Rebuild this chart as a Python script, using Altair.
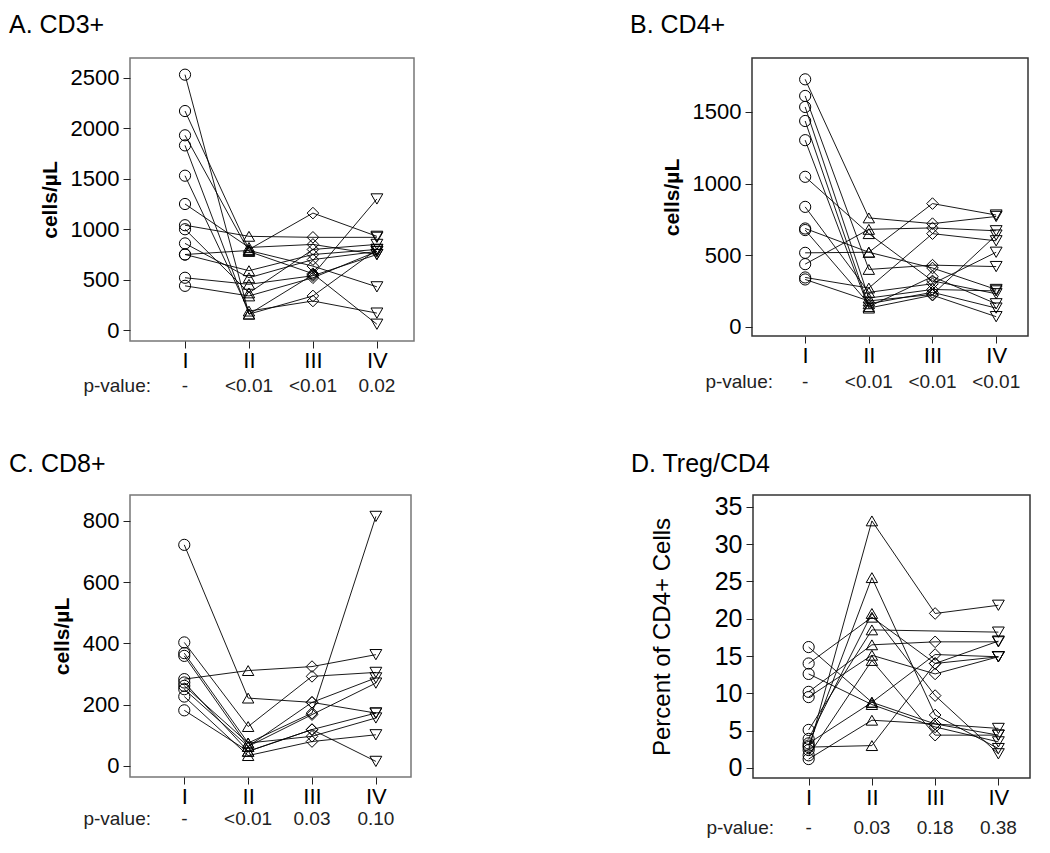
import altair as alt
import pandas as pd

ROMAN = ["I", "II", "III", "IV"]
SHAPES = ["circle", "triangle-up", "diamond", "triangle-down"]

# ---------------- Panel A: CD3+ (cells/uL) ----------------
a_I   = [2530, 2170, 1930, 1830, 1530, 1250, 1040, 1000, 860, 750, 750, 520, 440]
a_II  = [160, 800, 780, 160, 190, 820, 930, 370, 520, 790, 590, 455, 340]
a_III = [550, 1160, 560, 340, 290, 850, 920, 800, 700, 635, 750, 540, 520]
a_IV  = [1300, 930, 60, 800, 170, 750, 920, 850, 780, 430, 800, 750, 780]
a_p   = ["-", "<0.01", "<0.01", "0.02"]
a_ticks = [0, 500, 1000, 1500, 2000, 2500]

# ---------------- Panel B: CD4+ (cells/uL) ----------------
b_I   = [1728, 1612, 1535, 1437, 1303, 1047, 837, 686, 675, 516, 437, 344, 330]
b_II  = [760, 400, 200, 140, 130, 650, 240, 520, 160, 520, 680, 270, 180]
b_III = [720, 430, 260, 350, 220, 320, 300, 410, 240, 860, 690, 650, 225]
b_IV  = [770, 420, 250, 160, 70, 230, 520, 260, 130, 780, 670, 600, 640]
b_p   = ["-", "<0.01", "<0.01", "<0.01"]
b_ticks = [0, 500, 1000, 1500]

# ---------------- Panel C: CD8+ (cells/uL) ----------------
c_I   = [722, 403, 368, 359, 283, 272, 261, 250, 226, 181]
c_II  = [221, 128, 74, 63, 311, 47, 74, 63, 33, 47]
c_III = [207, 292, 172, 167, 324, 118, 96, 207, 79, 118]
c_IV  = [172, 305, 815, 270, 363, 172, 156, 287, 101, 14]
c_p   = ["-", "<0.01", "0.03", "0.10"]
c_ticks = [0, 200, 400, 600, 800]

# ---------------- Panel D: Treg/CD4 (% of CD4+ cells) ----------------
d_I   = [2.4, 3.0, 16.2, 14.0, 12.6, 10.2, 9.5, 5.1, 3.9, 1.7, 1.2, 2.8, 3.3]
d_II  = [33.1, 25.5, 8.8, 20.2, 8.5, 16.5, 15.1, 18.5, 20.7, 14.4, 6.4, 3.0, 8.8]
d_III = [20.7, 7.1, 5.9, 14.0, 5.5, 16.9, 12.6, None, 9.7, 4.4, 5.9, 14.0, 15.2]
d_IV  = [21.8, 2.6, 4.4, 14.9, 3.5, 16.9, 14.9, 18.2, 1.9, 4.4, 5.3, 17.0, 14.9]
d_p   = ["-", "0.03", "0.18", "0.38"]
d_ticks = [0, 5, 10, 15, 20, 25, 30, 35]

FONT = "Liberation Sans"


def long_table(cols):
    rows = []
    for p in range(len(cols[0])):
        for t, col in enumerate(cols):
            v = col[p]
            if v is not None:
                rows.append({"patient": p, "time": t + 1, "tp": ROMAN[t], "value": v})
    return pd.DataFrame(rows)


def panel(cols, pvals, title, yticks, ydom, xdom, W, H, ytitle, bold,
          ylab_size, ytitle_size, ytitle_pad, title_dx, title_offset,
          pv_off, box_color):
    df = long_table(cols)
    x = alt.X("time:Q", scale=alt.Scale(domain=xdom, nice=False, zero=False),
              axis=alt.Axis(values=[1, 2, 3, 4],
                            labelExpr="['','I','II','III','IV'][datum.value]",
                            title=None, grid=False, domain=False, tickSize=7,
                            tickColor="#222", labelFontSize=22, labelFont=FONT,
                            labelColor="black", labelPadding=2))
    y = alt.Y("value:Q", scale=alt.Scale(domain=ydom, nice=False, zero=False),
              axis=alt.Axis(values=yticks, format="d", title=ytitle, grid=False,
                            domain=False, tickSize=7, tickColor="#222",
                            labelFontSize=ylab_size, labelFont=FONT,
                            labelColor="black", labelPadding=4,
                            titleFont=FONT, titleFontSize=ytitle_size,
                            titleFontWeight="bold" if bold else "normal",
                            titleColor="black", titlePadding=ytitle_pad))
    base = alt.Chart(df)
    lines = base.mark_line(color="black", strokeWidth=0.9).encode(
        x=x, y=y, detail="patient:N", order="time:Q")
    pts = base.mark_point(filled=False, color="black", strokeWidth=1, opacity=1).encode(
        x=x, y=y,
        shape=alt.Shape("tp:N", scale=alt.Scale(domain=ROMAN, range=SHAPES), legend=None),
        size=alt.Size("tp:O", scale=alt.Scale(domain=ROMAN, range=[125, 140, 170, 145]),
                      legend=None))
    pdf = pd.DataFrame({"time": [1, 2, 3, 4], "pv": pvals})
    ptxt = alt.Chart(pdf).mark_text(fontSize=19, font=FONT, color="#222",
                                    baseline="middle").encode(
        x=alt.X("time:Q"), y=alt.value(H + pv_off), text="pv:N")
    plab = alt.Chart(pd.DataFrame({"t": ["p-value:"]})).mark_text(
        fontSize=19, font=FONT, color="#222", baseline="middle", align="right").encode(
        x=alt.value(21), y=alt.value(H + pv_off), text="t:N")
    return alt.layer(lines, pts, ptxt, plab).properties(
        width=W, height=H,
        view=alt.ViewBackground(stroke=box_color, strokeWidth=1.5),
        title=alt.TitleParams(text=title, anchor="start", frame="group",
                              dx=title_dx, offset=title_offset, fontSize=25,
                              font=FONT, fontWeight="normal", color="black"))


A = panel([a_I, a_II, a_III, a_IV], a_p, "A. CD3+", a_ticks, [-106, 2695],
          [0.14, 4.58], 284, 283, "cells/µL", True, 22, 21, 10, -121, 20, 45, "#777")
B = panel([b_I, b_II, b_III, b_IV], b_p, "B. CD4+", b_ticks, [-65, 1877],
          [0.165, 4.5], 276, 278, "cells/µL", True, 22, 21, 10, -122, 20, 46, "#333")
C = panel([c_I, c_II, c_III, c_IV], c_p, "C. CD8+", c_ticks, [-37, 885],
          [0.15, 4.55], 281, 282, "cells/µL", True, 22, 21, 10, -121, 18, 42, "#777")
D = panel([d_I, d_II, d_III, d_IV], d_p, "D. Treg/CD4", d_ticks, [-1.34, 36.57],
          [0.12, 4.5], 277, 283, "Percent of CD4+ Cells", False, 25, 24, 40, -122, 18, 50, "#333")

chart = alt.vconcat(
    alt.hconcat(A, B, spacing=214),
    alt.hconcat(C, D, spacing=218),
    spacing=53,
).properties(
    padding={"left": 0, "top": 4, "right": 5, "bottom": 5},
    background="white",
).configure_view(stroke="#555")

chart.save("out.html", embed_options={"renderer": "svg", "actions": False})
